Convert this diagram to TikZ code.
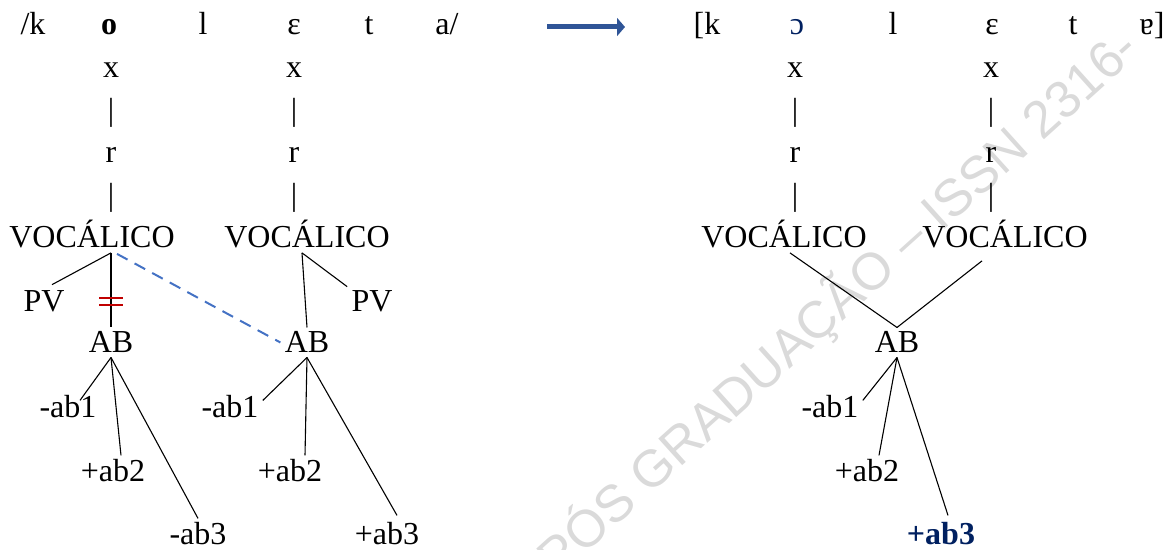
\documentclass[tikz,border=0pt]{standalone}
\usepackage{fontspec}
\setmainfont{Liberation Serif}
\newfontfamily\markfont{Liberation Sans}
\usepackage{tikz}
\usetikzlibrary{calc, arrows.meta}
\definecolor{arrowblue}{RGB}{47, 85, 151}
\definecolor{linkblue}{RGB}{68, 114, 196}
\definecolor{cutred}{RGB}{192, 0, 0}
\definecolor{navyblue}{RGB}{0, 32, 96}
\definecolor{markgray}{RGB}{218, 218, 218}
\tikzset{
    seg/.style={anchor=base, inner sep=2pt, font=\fontsize{16}{19}\selectfont},
    assoc/.style={line width=0.55pt},
}

\begin{document}
\begin{tikzpicture}[x=0.5pt, y=-0.5pt]
    \useasboundingbox (0,0) rectangle (1173,550);
    % watermark
    \begin{scope}
        \clip (0,0) rectangle (1173,550);
        \node[anchor=base west, rotate=42, inner sep=0pt, text=markgray,
              font=\markfont\fontsize{26}{30}\selectfont] (mark) at (557,579)
              {PÓS GRADUAÇÃO – ISSN 2316-};
    \end{scope}

    % underlying form
    \node[seg] (kA) at (33,35) {/k};
    \node[seg, font=\fontsize{16}{19}\selectfont\bfseries] (oA) at (109,35) {o};
    \node[seg] (lA) at (203,35) {l};
    \node[seg] (eA) at (294,35) {ε};
    \node[seg] (tA) at (369,35) {t};
    \node[seg] (aA) at (447,35) {a/};
    \foreach \col/\cx in {A/111, B/294}
    {
        \node[seg] (xn\col) at (\cx,78) {x};
        \node[seg] (barone\col) at (\cx,120.5) {|};
        \node[seg] (rn\col) at (\cx,163) {r};
        \node[seg] (bartwo\col) at (\cx,205.5) {|};
    }
    \node[seg] (vocA) at (92,248) {VOCÁLICO};
    \node[seg] (vocB) at (307,248) {VOCÁLICO};
    \node[seg] (pvA) at (44,312) {PV};
    \node[seg] (pvB) at (372,312) {PV};
    \node[seg] (abA) at (111,353) {AB};
    \node[seg] (abB) at (307,353) {AB};
    \node[seg] (aboneA) at (68,418) {-ab1};
    \node[seg] (abtwoA) at (113,482) {+ab2};
    \node[seg] (abthreeA) at (198,545) {-ab3};
    \node[seg] (aboneB) at (230,418) {-ab1};
    \node[seg] (abtwoB) at (290,482) {+ab2};
    \node[seg] (abthreeB) at (387,545) {+ab3};

    \draw[assoc] (vocA.south -| xnA) -- ($(pvA.north)+(8,-2)$);
    \draw[assoc] (vocA.south -| xnA) -- (abA.north);
    \draw[assoc] ($(vocB.south)+(-5,0)$) -- (abB.north);
    \draw[assoc] ($(vocB.south)+(-5,0)$) -- (pvB.north west);
    \draw[assoc] (abA.south) -- ($(aboneA.north)+(12,9)$);
    \draw[assoc] (abA.south) -- ($(abtwoA.north)+(8,0)$);
    \draw[assoc] (abA.south) -- (abthreeA.north);
    \draw[assoc] (abB.south) -- ($(aboneB.north east)+(0,9)$);
    \draw[assoc] (abB.south) -- ($(abtwoB.north)+(15,0)$);
    \draw[assoc] (abB.south) -- ($(abthreeB.north)+(10,-3)$);
    % spreading and delinking
    \draw[linkblue, line width=1pt, dash pattern=on 6pt off 4pt]
        ($(vocA.south)+(25,1)$) -- (abB.west);
    \coordinate (cut) at ($(vocA.south -| xnA)!0.65!(abA.north)$);
    \draw[cutred, line width=1.1pt] ($(cut)+(-12,-3.5)$) -- +(24,0);
    \draw[cutred, line width=1.1pt] ($(cut)+(-12,3.5)$) -- +(24,0);

    % arrow
    \coordinate (arrowL) at (547,27);
    \coordinate (arrowR) at (625,27);
    \draw[arrowblue, line width=2.5pt, -{Triangle[length=4pt, width=9pt]}]
        (arrowL) -- (arrowR);

    % surface form
    \node[seg] (kC) at (707,35) {[k};
    \node[seg, text=navyblue] (oC) at (797,35) {ɔ};
    \node[seg] (lC) at (893,35) {l};
    \node[seg] (eC) at (992,35) {ε};
    \node[seg] (tC) at (1073,35) {t};
    \node[seg] (aC) at (1152,35) {ɐ]};
    \foreach \col/\cx in {C/795, D/991}
    {
        \node[seg] (xn\col) at (\cx,78) {x};
        \node[seg] (barone\col) at (\cx,120.5) {|};
        \node[seg] (rn\col) at (\cx,163) {r};
        \node[seg] (bartwo\col) at (\cx,205.5) {|};
    }
    \node[seg] (vocC) at (784,248) {VOCÁLICO};
    \node[seg] (vocD) at (1005,248) {VOCÁLICO};
    \node[seg] (abC) at (897,353) {AB};
    \node[seg] (aboneC) at (830,418) {-ab1};
    \node[seg] (abtwoC) at (867,482) {+ab2};
    \node[seg, text=navyblue, font=\fontsize{16}{19}\selectfont\bfseries] (abthreeC) at (941,545) {+ab3};

    \draw[assoc] ($(vocC.south)+(6,0)$) -- (abC.north);
    \draw[assoc] ($(vocD.south)+(-23,8)$) -- (abC.north);
    \draw[assoc] (abC.south) -- ($(aboneC.north east)+(0,9)$);
    \draw[assoc] (abC.south) -- ($(abtwoC.north)+(12,0)$);
    \draw[assoc] (abC.south) -- ($(abthreeC.north)+(7,-3)$);
\end{tikzpicture}
\end{document}
